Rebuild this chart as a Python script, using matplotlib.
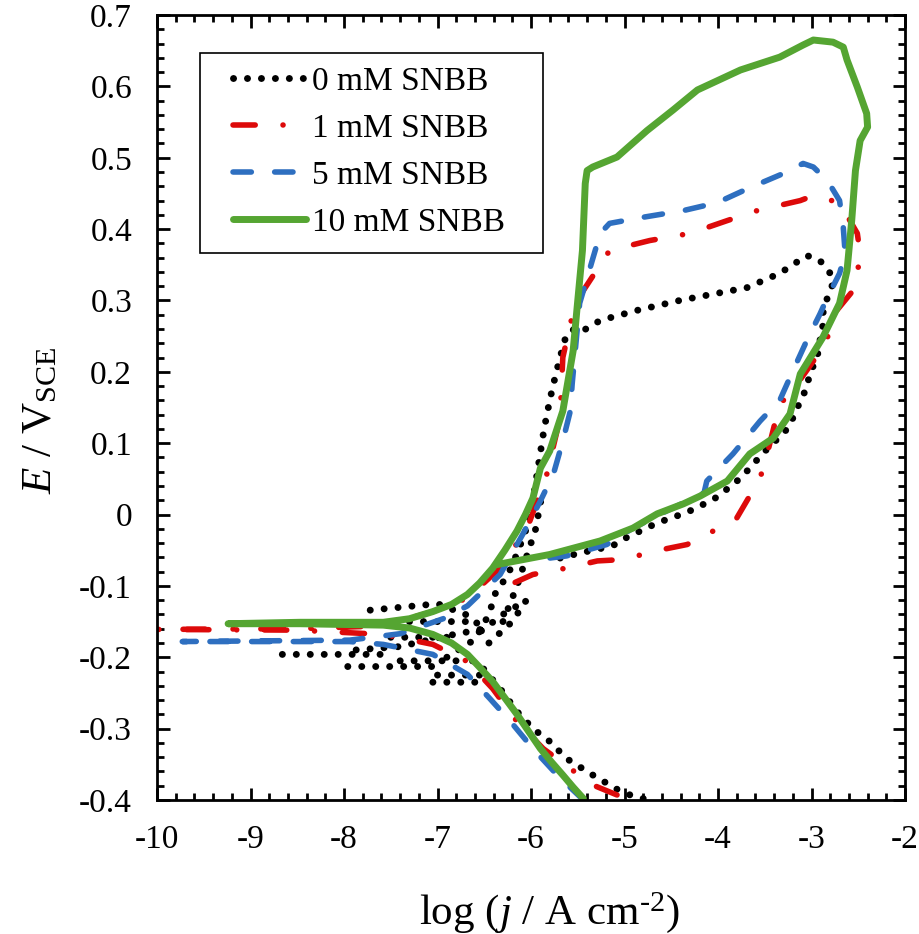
import numpy as np
import matplotlib
matplotlib.use("Agg")
import matplotlib.pyplot as plt
from matplotlib.ticker import MultipleLocator, FuncFormatter
from matplotlib.patches import Rectangle

plt.rcParams['font.family'] = ['Liberation Serif', 'DejaVu Serif']
plt.rcParams['mathtext.fontset'] = 'custom'
plt.rcParams['mathtext.rm'] = 'Liberation Serif'
plt.rcParams['mathtext.it'] = 'Liberation Serif:italic'
plt.rcParams['axes.unicode_minus'] = False

nan = np.nan

# 0 mM SNBB (black dots) - segments separated by nan
black_x = [-4.80, -4.94, -5.08, -5.34, -5.62, -5.80, -5.98, -6.15, -6.33, -6.51, -6.68, nan,
           -8.66, -7.58, nan,
           -7.96, -7.00, nan,
           -7.05, -6.55, nan,
           -7.72, -7.00, -6.70, -6.50, -6.90, -7.40, -7.90, nan,
           -7.30, -6.60, nan,
           -7.50, -6.80, nan,
           -7.40, -6.70, nan,
           -7.00, -6.50, nan,
           -6.45, -6.20, -6.05, -6.30, -6.55, nan,
           -6.30, -6.15, -6.05, -5.95, -5.88, nan,
           -6.90, -6.60, -6.45, -6.38, -6.25, -6.15, -6.05, -5.98, -5.92, -5.86, -5.80, -5.76,
           -5.69, -5.62, -5.51, -5.44, -5.26, -4.87, -4.41, -4.01, -3.69, -3.34, -3.05, -2.91,
           -2.80, -2.77, -2.83, -2.88, -2.88, -2.91, -2.94, -3.02, -3.05, -3.12, -3.20, -3.28,
           -3.41, -3.52, -3.64, -3.76, -3.90, -4.03, -4.19, -4.35, -4.51, -4.67, -4.99, -5.13,
           -5.48, -5.69]
black_y = [-0.398, -0.393, -0.385, -0.365, -0.342, -0.318, -0.300, -0.276, -0.244, -0.216, -0.200, nan,
           -0.196, -0.196, nan,
           -0.213, -0.213, nan,
           -0.235, -0.235, nan,
           -0.134, -0.125, -0.140, -0.160, -0.170, -0.185, -0.190, nan,
           -0.150, -0.150, nan,
           -0.172, -0.172, nan,
           -0.205, -0.205, nan,
           -0.225, -0.225, nan,
           -0.180, -0.150, -0.120, -0.140, -0.165, nan,
           -0.150, -0.100, -0.060, -0.020, 0.030, nan,
           -0.200, -0.175, -0.140, -0.110, -0.085, -0.055, -0.020, 0.020, 0.070, 0.120, 0.160, 0.183,
           0.220, 0.253, 0.262, 0.258, 0.272, 0.286, 0.300, 0.310, 0.318, 0.338, 0.363, 0.356,
           0.338, 0.324, 0.304, 0.281, 0.258, 0.244, 0.220, 0.197, 0.178, 0.159, 0.135, 0.117,
           0.100, 0.086, 0.068, 0.051, 0.036, 0.023, 0.012, 0.002, -0.005, -0.013, -0.033, -0.044,
           -0.054, -0.061]

# 1 mM SNBB (red dash-dot)
red_x = [-5.08, -5.34, -5.58, -5.87, -6.15, -6.41, -6.68, -7.05, -7.58, -8.50, -10.0,
         -8.50, -7.58, -7.05, -6.68, -6.33, -6.04, -5.83, -5.69, -5.66, -5.58, -5.51, -5.37,
         -5.16, -4.73, -4.30, -3.90, -3.58, -3.12, -2.98, -2.70, -2.51, -2.48, -2.53, -2.73,
         -2.83, -2.98, -3.23, -3.34, -3.52, -3.63, -3.80, -4.12, -4.33, -4.67, -5.01, -5.29,
         -5.62, -5.98, -6.22]
red_y = [-0.393, -0.379, -0.356, -0.328, -0.290, -0.244, -0.206, -0.182, -0.168, -0.162, -0.161,
         -0.160, -0.156, -0.136, -0.117, -0.075, -0.019, 0.057, 0.135, 0.220, 0.267, 0.300, 0.328,
         0.370, 0.384, 0.394, 0.412, 0.426, 0.440, 0.447, 0.437, 0.394, 0.366, 0.318, 0.286,
         0.248, 0.215, 0.169, 0.155, 0.061, 0.033, -0.005, -0.028, -0.042, -0.051, -0.063, -0.065,
         -0.075, -0.084, -0.098]

# 5 mM SNBB (blue dashes)
blue_x = [-5.44, -5.72, -5.98, -6.22, -6.44, -6.68, -7.05, -7.58, -7.94, -9.73,
          -7.94, -7.40, -6.94, -6.68, -6.33, -6.09, -5.90, -5.76, -5.66, -5.58, -5.56, -5.48,
          -5.26, -5.16, -4.83, -4.37, -4.01, -3.66, -3.30, -3.09, -2.98, -2.83, -2.70, -2.66,
          -2.64, -2.70, -2.83, -2.91, -3.05, -3.20, -3.34, -3.55, -3.84, -4.12, -4.15, -4.55,
          -4.91, -5.19, -5.62, -6.04]
blue_y = [-0.400, -0.365, -0.328, -0.290, -0.258, -0.224, -0.196, -0.182, -0.178, -0.178,
          -0.176, -0.167, -0.146, -0.128, -0.084, -0.028, 0.019, 0.057, 0.103, 0.145, 0.183, 0.296,
          0.394, 0.408, 0.416, 0.426, 0.437, 0.458, 0.478, 0.492, 0.487, 0.468, 0.440, 0.402,
          0.366, 0.338, 0.304, 0.281, 0.244, 0.201, 0.160, 0.131, 0.085, 0.047, 0.030, 0.005,
          -0.019, -0.042, -0.058, -0.065]

# 10 mM SNBB (green solid)
green_x = [-5.44, -5.55, -5.66, -5.78, -5.90, -6.02, -6.15, -6.28, -6.41, -6.55, -6.68, -6.85,
           -7.05, -7.30, -7.58, -8.47, -9.24,
           -8.47, -7.58, -7.30, -7.05, -6.85, -6.68, -6.55, -6.41, -6.28, -6.15, -6.06, -5.98,
           -5.90, -5.80, -5.66, -5.55, -5.50, -5.45, -5.42, -5.40, -5.34, -5.08, -4.76, -4.48,
           -4.22, -3.76, -3.34, -3.09, -2.98, -2.77, -2.66, -2.62, -2.51, -2.41, -2.40, -2.48,
           -2.53, -2.57, -2.62, -2.70, -2.88, -3.12, -3.23, -3.41, -3.66, -3.90, -4.19, -4.37,
           -4.65, -4.91, -5.26, -5.80, -6.36]
green_y = [-0.398, -0.382, -0.365, -0.347, -0.328, -0.305, -0.280, -0.257, -0.234, -0.214, -0.196, -0.180,
           -0.168, -0.159, -0.155, -0.153, -0.153,
           -0.151, -0.151, -0.146, -0.136, -0.126, -0.112, -0.096, -0.075, -0.050, -0.023, 0.000, 0.023,
           0.065, 0.089, 0.145, 0.229, 0.300, 0.370, 0.464, 0.482, 0.487, 0.501, 0.538, 0.567,
           0.595, 0.623, 0.641, 0.658, 0.665, 0.662, 0.655, 0.637, 0.599, 0.562, 0.543, 0.524,
           0.482, 0.412, 0.342, 0.296, 0.248, 0.197, 0.141, 0.107, 0.085, 0.047, 0.026, 0.015,
           0.001, -0.019, -0.037, -0.056, -0.070]

labels = ['0 mM SNBB', '1 mM SNBB', '5 mM SNBB', '10 mM SNBB']

fig = plt.figure(figsize=(9.2, 9.34), dpi=100)
ax = fig.add_axes([0.1707, 0.1435, 0.8130, 0.8404])

ax.plot(black_x, black_y, color='black', lw=5, linestyle=(0, (0.01, 2.0)),
        dash_capstyle='round', label=labels[0])
ax.plot(red_x, red_y, color='#dd0a0a', lw=4, linestyle=(0, (4.0, 5.0, 0.01, 5.0)),
        dash_capstyle='round', label=labels[1])
ax.plot(blue_x, blue_y, color='#2e6fc0', lw=4, linestyle=(0, (3.3, 4.2)),
        dash_capstyle='round', label=labels[2])
ax.plot(green_x, green_y, color='#55a532', lw=5, solid_capstyle='round',
        solid_joinstyle='round', label=labels[3])

ax.set_xlim(-10, -2)
ax.set_ylim(-0.4, 0.7)
ax.xaxis.set_major_locator(MultipleLocator(1))
ax.xaxis.set_minor_locator(MultipleLocator(0.2))
ax.yaxis.set_major_locator(MultipleLocator(0.1))
ax.yaxis.set_minor_locator(MultipleLocator(0.02))
ax.yaxis.set_major_formatter(FuncFormatter(lambda v, p: '%g' % round(v, 2)))
ax.xaxis.set_major_formatter(FuncFormatter(lambda v, p: '%g' % v))

ax.tick_params(which='major', direction='in', length=9, width=2, color='black',
               top=True, right=True, labelsize=24, pad=18)
ax.tick_params(which='minor', direction='in', length=5, width=2, color='black',
               top=True, right=True)
for s in ax.spines.values():
    s.set_linewidth(2)

ax.set_xlabel('log ($j$ / A cm$^{\u20102}$)', fontsize=31)
ax.set_ylabel(r'$E$ / V$_{\mathrm{SCE}}$', fontsize=31)
ax.xaxis.set_label_coords(0.524, -0.115)
ax.yaxis.set_label_coords(-0.130, 0.483)

# legend box drawn separately so the padding matches the original
ax.add_patch(Rectangle((0.0575, 0.6968), 0.4585, 0.2548, transform=ax.transAxes,
                       facecolor='white', edgecolor='black', lw=1.2, zorder=4))
leg = ax.legend(loc='upper left', bbox_to_anchor=(0.1016, 0.935), borderaxespad=0,
                fontsize=24, handlelength=2.2, handletextpad=0.18, labelspacing=0.5,
                borderpad=0, frameon=False)
leg.set_zorder(5)

fig.savefig('out.png', dpi=100)
